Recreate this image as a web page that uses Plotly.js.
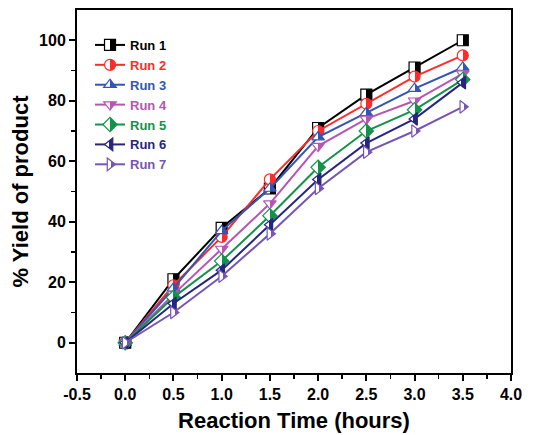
<!DOCTYPE html>
<html><head><meta charset="utf-8">
<script src="https://cdn.plot.ly/plotly-3.0.1.min.js"></script>
<style>body{margin:0;padding:0;background:#fff}#chart{width:534px;height:435px}</style>
</head><body><div id="chart"></div>
<script>
const hours = [0, 0.5, 1.0, 1.5, 2.0, 2.5, 3.0, 3.5];
const run1 = [0, 21, 38, 51, 71, 82, 91, 100];
const run2 = [0, 19, 35, 54, 70, 79, 88, 95];
const run3 = [0, 18, 37, 51, 68, 76, 84, 91];
const run4 = [0, 16, 31, 46, 65, 74, 80, 89];
const run5 = [0, 15, 27, 42, 58, 70, 77, 87];
const run6 = [0, 13, 24, 39, 54, 66, 74, 86];
const run7 = [0, 10, 22, 36, 51, 63, 70, 78];
const names = ['Run 1','Run 2','Run 3','Run 4','Run 5','Run 6','Run 7'];
const xTickVals = [-0.5, 0, 0.5, 1.0, 1.5, 2.0, 2.5, 3.0, 3.5, 4.0];
const xTickText = ['-0.5','0.0','0.5','1.0','1.5','2.0','2.5','3.0','3.5','4.0'];
const yTickVals = [0, 20, 40, 60, 80, 100];
const colors = ['#000000','#ff2a2a','#3355b3','#b555b5','#14924a','#262680','#7755b5'];
const symbols = ['square','circle','triangle-up','triangle-down','diamond','triangle-left','triangle-right'];
const series = [run1, run2, run3, run4, run5, run6, run7];

const traces = series.map((ys, i) => ({
  x: hours, y: ys, type: 'scatter', mode: 'lines+markers',
  name: '<span style="color:' + colors[i] + '">' + names[i] + '</span>',
  line: {color: colors[i], width: 2},
  marker: {symbol: symbols[i], size: 11, color: '#ffffff',
           gradient: {type: 'horizontal', color: colors[i]},
           line: {color: colors[i], width: 1.2}}
}));

const FONT = 'Liberation Sans, Arial, sans-serif';
const axisBase = {
  showgrid: false, zeroline: false, showline: true, linecolor: '#000', linewidth: 2,
  mirror: true, ticks: 'outside', ticklen: 6, tickwidth: 2, tickcolor: '#000',
  tickfont: {family: FONT, size: 16, color: '#000', weight: 'bold'}
};

const layout = {
  width: 534, height: 435,
  margin: {l: 77, r: 23, t: 10, b: 62},
  paper_bgcolor: '#fff', plot_bgcolor: '#fff',
  showlegend: true,
  legend: {x: 0.03, y: 0.945, xanchor: 'left', yanchor: 'top', bgcolor: 'rgba(0,0,0,0)',
           font: {family: FONT, size: 13, weight: 'bold'},
           itemwidth: 30, tracegroupgap: 0},
  xaxis: Object.assign({}, axisBase, {
    range: [-0.5, 4.0], tickmode: 'array', tickvals: xTickVals, ticktext: xTickText,
    minor: {ticks: 'outside', ticklen: 4, tickwidth: 1.5, tickcolor: '#000', dtick: 0.25, tick0: -0.5},
    title: {text: 'Reaction Time (hours)', standoff: 10,
            font: {family: FONT, size: 22, color: '#000', weight: 'bold'}}
  }),
  yaxis: Object.assign({}, axisBase, {
    range: [-10, 110], tickmode: 'array', tickvals: yTickVals,
    minor: {ticks: 'outside', ticklen: 4, tickwidth: 1.5, tickcolor: '#000', tickvals: [10, 30, 50, 70, 90]},
    title: {text: '% Yield of product', standoff: 4,
            font: {family: FONT, size: 22, color: '#000', weight: 'bold'}}
  })
};

function hardHalfFill(gd) {
  const NS = 'http://www.w3.org/2000/svg';
  gd.querySelectorAll('linearGradient').forEach(g => {
    const stops = Array.from(g.querySelectorAll('stop'));
    let col = null;
    stops.forEach(s => {
      const c = (s.getAttribute('stop-color') || s.style.stopColor || '').replace(/\s/g, '').toLowerCase();
      if (c && c !== '#ffffff' && c !== 'rgb(255,255,255)' && c !== 'white') col = c;
    });
    if (!col) return;
    g.setAttribute('x1', '0'); g.setAttribute('x2', '1');
    g.setAttribute('y1', '0'); g.setAttribute('y2', '0');
    stops.forEach(s => s.remove());
    [[0, '#ffffff'], [0.5, '#ffffff'], [0.5, col], [1, col]].forEach(([o, c]) => {
      const s = document.createElementNS(NS, 'stop');
      s.setAttribute('offset', o);
      s.setAttribute('stop-color', c);
      s.setAttribute('stop-opacity', '1');
      g.appendChild(s);
    });
  });
}

Plotly.newPlot('chart', traces, layout, {displayModeBar: false, staticPlot: true})
  .then(gd => hardHalfFill(gd));
</script></body></html>
